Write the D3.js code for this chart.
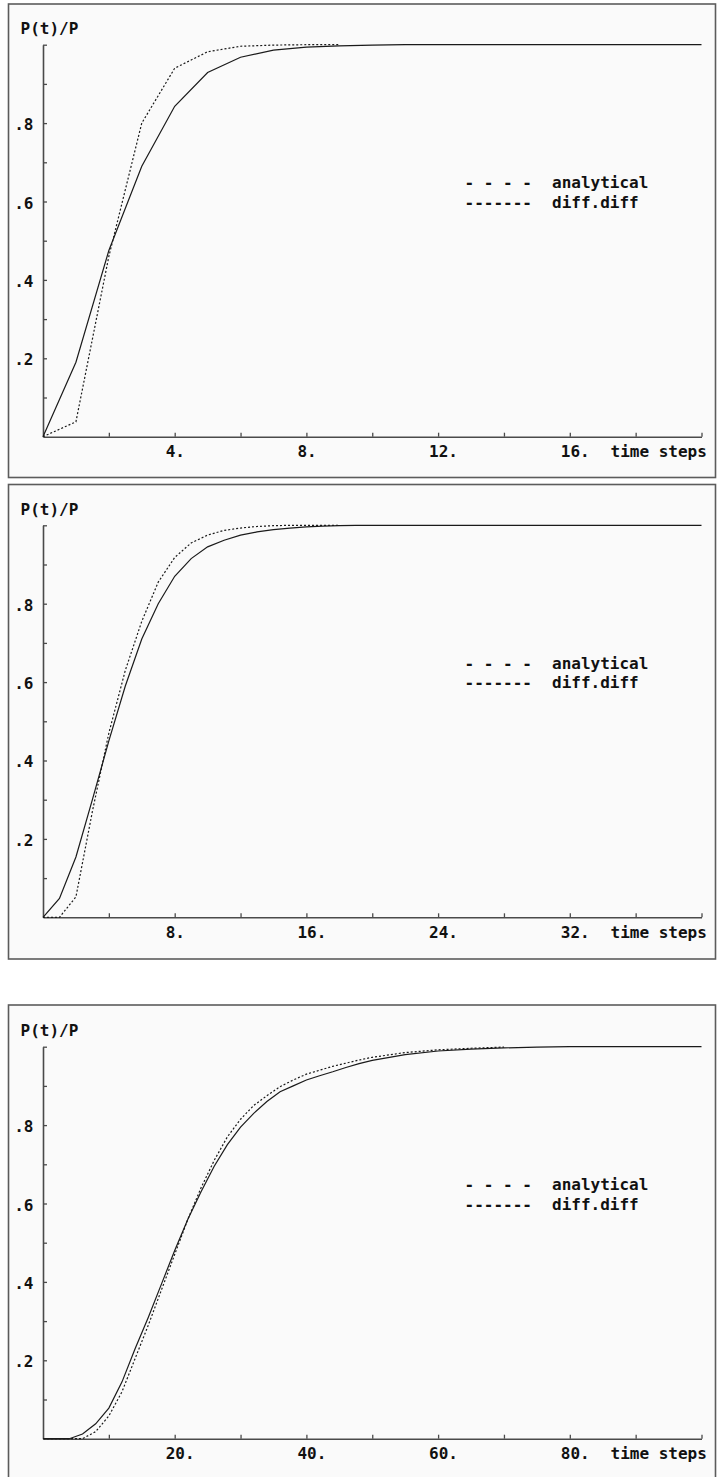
<!DOCTYPE html>
<html lang="en">
<head>
<meta charset="UTF-8">
<title>P(t)/P - analytical vs diff.diff</title>
<script src="https://d3js.org/d3.v7.min.js"></script>
<style>
  body { margin: 0; background: #ffffff; }
  svg text { font-family: "DejaVu Sans Mono", monospace; font-weight: bold; font-size: 16px; fill: #111; }
</style>
</head>
<body>
<script>
// ---- data ----
// panel 1 : time 0..20
var p1Time = [0,1,2,3,4,5,6,7,8,9,10,11,12,13,14,15,16,17,18,19,20];
var p1Analytical = [0, 0.038, 0.46, 0.80, 0.94, 0.982, 0.996, 0.999, 1.0, 1.0];
var p1DiffDiff = [0, 0.19, 0.475, 0.69, 0.843, 0.929, 0.968, 0.986, 0.994, 0.997, 0.999, 1,1,1,1,1,1,1,1,1,1];
var p1Ticks = [4, 8, 12, 16];

// panel 2 : time 0..40
var p2Time = [0,1,2,3,4,5,6,7,8,9,10,11,12,13,14,15,16,17,18,19,20,21,22,23,24,25,26,27,28,29,30,31,32,33,34,35,36,37,38,39,40];
var p2Analytical = [0, 0, 0.052, 0.27, 0.47, 0.63, 0.755, 0.855, 0.918, 0.955, 0.975, 0.987, 0.993, 0.997, 0.999, 1, 1, 1, 1];
var p2DiffDiff = [0, 0.048, 0.154, 0.30, 0.45, 0.59, 0.71, 0.80, 0.87, 0.915, 0.945, 0.962, 0.975, 0.983, 0.989, 0.993, 0.996, 0.998, 0.999, 1,
                  1,1,1,1,1,1,1,1,1,1,1,1,1,1,1,1,1,1,1,1,1];
var p2Ticks = [8, 16, 24, 32];

// panel 3 : time 0..100
var p3Time = [0,4,6,8,10,12,14,16,18,20,22,24,26,28,30,32,34,36,38,40,42,44,46,48,50,55,60,65,70,75,80,90,100];
var p3Analytical = [0, 0, 0, 0.018, 0.058, 0.12, 0.205, 0.29, 0.38, 0.47, 0.56, 0.64, 0.71, 0.77, 0.815, 0.85, 0.875, 0.898, 0.915, 0.93,
                    0.94, 0.95, 0.958, 0.966, 0.973, 0.985, 0.992, 0.996, 0.999];
var p3DiffDiff = [0, 0, 0.012, 0.038, 0.078, 0.145, 0.23, 0.31, 0.395, 0.48, 0.56, 0.63, 0.695, 0.75, 0.795, 0.83, 0.86, 0.885, 0.90, 0.915,
                  0.926, 0.936, 0.947, 0.957, 0.965, 0.98, 0.989, 0.994, 0.997, 0.999, 1, 1, 1];
var p3Ticks = [20, 40, 60, 80];

var yTicks = [0.1,0.2,0.3,0.4,0.5,0.6,0.7,0.8,0.9,1.0];
var yLabels = [".2", ".4", ".6", ".8"];
var legendNames = ["analytical", "diff.diff"];
var legendMarks = ["- - - -", "-------"];

var panels = [
  { top: 0,     xMax: 20,  time: p1Time, ana: p1Analytical, dd: p1DiffDiff, labels: p1Ticks, boxTop: 4,    boxBottom: 477.5 },
  { top: 480.6, xMax: 40,  time: p2Time, ana: p2Analytical, dd: p2DiffDiff, labels: p2Ticks, boxTop: 484.5, boxBottom: 959 },
  { top: 1002,  xMax: 100, time: p3Time, ana: p3Analytical, dd: p3DiffDiff, labels: p3Ticks, boxTop: 1005, boxBottom: 1490 }
];

var svg = d3.select("body").append("svg")
  .attr("width", 717)
  .attr("height", 1477);

panels.forEach(function(p) {
  // frame
  svg.append("rect")
    .attr("x", 8.5).attr("y", p.boxTop)
    .attr("width", 707).attr("height", p.boxBottom - p.boxTop)
    .attr("fill", "#fafafa")
    .attr("stroke", "#5c5c5c")
    .attr("stroke-width", 1.6);

  var g = svg.append("g").attr("transform", "translate(0," + p.top + ")");

  var x = d3.scaleLinear().domain([0, p.xMax]).range([43, 701.5]);
  var y = d3.scaleLinear().domain([0, 1]).range([436.7, 44.7]);

  // x axis, inward ticks every xMax/10
  var xAxis = d3.axisBottom(x)
    .tickValues(d3.range(1, 11).map(function(i) { return i * p.xMax / 10; }))
    .tickSizeInner(-4).tickSizeOuter(0)
    .tickFormat("");
  var gx = g.append("g").attr("transform", "translate(0," + y(0) + ")").call(xAxis);

  var yAxis = d3.axisLeft(y)
    .tickValues(yTicks)
    .tickSizeInner(-4).tickSizeOuter(0)
    .tickFormat("");
  var gy = g.append("g").attr("transform", "translate(" + x(0) + ",0)").call(yAxis);

  [gx, gy].forEach(function(a) {
    a.select(".domain").attr("stroke", "#4a4a4a").attr("stroke-width", 1.6);
    a.selectAll(".tick line").attr("stroke", "#4a4a4a").attr("stroke-width", 1.3);
  });

  // x labels
  g.selectAll(".xl").data(p.labels).enter().append("text")
    .attr("x", function(d) { return x(d) - 9; })
    .attr("y", 457)
    .text(function(d) { return d + "."; });
  g.append("text").attr("x", 610.5).attr("y", 457).text("time steps");

  // y labels
  g.selectAll(".yl").data(yLabels).enter().append("text")
    .attr("x", 33.5)
    .attr("y", function(d) { return y(+("0" + d)) + 7; })
    .attr("text-anchor", "end")
    .text(function(d) { return d; });
  g.append("text").attr("x", 20.5).attr("y", 34).text("P(t)/P");

  // curves
  var line = d3.line()
    .x(function(d) { return x(d[0]); })
    .y(function(d) { return y(d[1]); });

  var anaPts = p.ana.map(function(v, i) { return [p.time[i], v]; });
  var ddPts = p.dd.map(function(v, i) { return [p.time[i], v]; });

  g.append("path").datum(ddPts)
    .attr("d", line)
    .attr("fill", "none")
    .attr("stroke", "#1a1a1a")
    .attr("stroke-width", 1.2);

  g.append("path").datum(anaPts)
    .attr("d", line)
    .attr("fill", "none")
    .attr("stroke", "#1a1a1a")
    .attr("stroke-width", 1.2)
    .attr("stroke-dasharray", "2,2");

  // legend
  g.selectAll(".lm").data(legendMarks).enter().append("text")
    .attr("x", 464.5)
    .attr("y", function(d, i) { return 188 + i * 19.5; })
    .text(function(d) { return d; });
  g.selectAll(".ln").data(legendNames).enter().append("text")
    .attr("x", 552)
    .attr("y", function(d, i) { return 188 + i * 19.5; })
    .text(function(d) { return d; });
});
</script>
</body>
</html>
